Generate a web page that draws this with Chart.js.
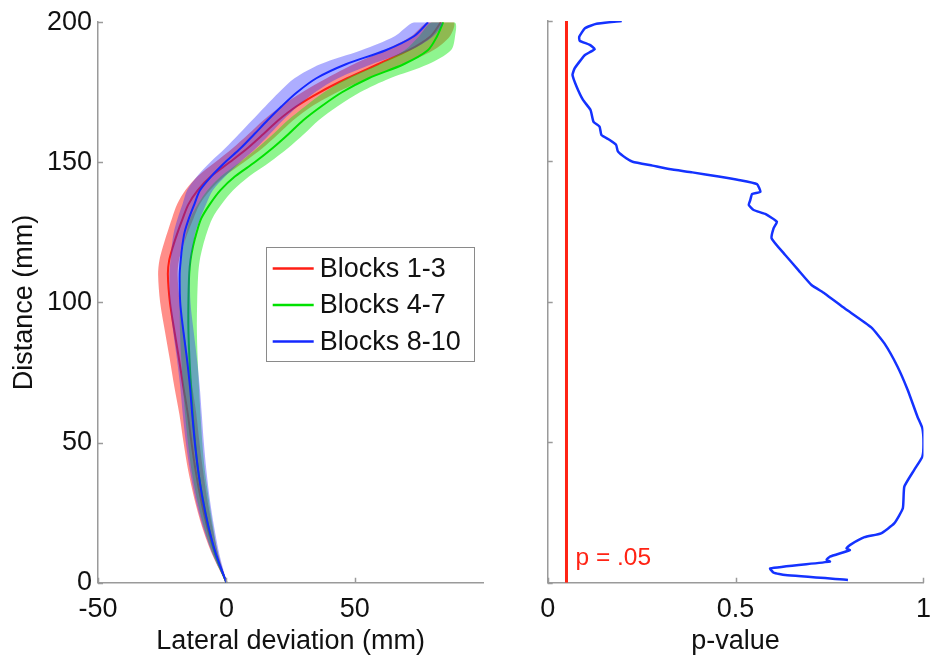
<!DOCTYPE html>
<html>
<head>
<meta charset="utf-8">
<script src="https://cdn.jsdelivr.net/npm/chart.js@4.4.1/dist/chart.umd.min.js"></script>
<style>
  html, body { margin: 0; padding: 0; background: #fff; overflow: hidden; width: 932px; height: 656px; }
  #wrap { position: relative; width: 932px; height: 656px; overflow: hidden; }
  canvas { position: absolute; top: 0; }
  #trajectory { left: 0; }
  #pvalue { left: 520px; }
</style>
</head>
<body>
<div id="wrap">
  <canvas id="trajectory" width="520" height="656"></canvas>
  <canvas id="pvalue" width="422" height="656"></canvas>
</div>
<script>
// Distance along the path (mm) at which the mean lateral deviation is sampled
const distanceLevels = [0, 10, 20, 30, 40, 50, 60, 70, 80, 90, 100, 110, 115, 120, 125, 130, 135, 140, 145, 150, 155, 160, 165, 170, 175, 180, 185, 190, 195, 200];

// Mean lateral deviation (mm) per block group
const blocks1to3Mean  = [0, -4.3, -7.5, -10.0, -12.0, -13.6, -15.0, -16.8, -18.5, -20.3, -22.0, -22.8, -22.3, -20.8, -19.0, -17.0, -14.8, -11.2, -6.0, 1.2, 8.2, 14.3, 20.2, 27.3, 36.3, 47.0, 59.0, 71.0, 79.5, 83.5];
const blocks4to7Mean  = [0, -4.2, -7.0, -9.2, -11.0, -12.2, -13.1, -13.8, -14.4, -14.8, -14.8, -14.5, -14.0, -13.0, -11.6, -9.8, -6.5, -2.4, 3.4, 11.0, 17.9, 24.1, 29.9, 37.0, 45.0, 55.4, 69.0, 78.4, 82.0, 84.4];
const blocks8to10Mean = [0, -4.0, -7.0, -9.3, -11.0, -12.3, -13.3, -14.2, -15.4, -16.8, -18.0, -18.2, -17.8, -17.2, -16.3, -14.6, -12.5, -10.3, -5.9, -0.5, 5.5, 10.8, 16.0, 21.5, 27.5, 35.0, 46.5, 62.0, 73.0, 78.5];

// Half-width of the shaded error band (mm, lateral)
const blocks1to3Spread  = [0.2, 1.2, 2.0, 2.5, 2.9, 3.1, 3.3, 3.5, 3.6, 3.7, 3.8, 3.8, 3.8, 3.9, 4.0, 4.2, 4.4, 4.8, 5.2, 5.6, 5.8, 5.8, 5.8, 6.0, 6.8, 8.0, 9.5, 9.5, 7.5, 5.0];
const blocks4to7Spread  = [0.2, 1.0, 1.8, 2.3, 2.6, 2.8, 3.0, 3.1, 3.2, 3.3, 3.4, 3.5, 3.6, 3.8, 4.0, 4.3, 4.6, 5.0, 5.5, 5.8, 6.0, 6.0, 6.0, 6.3, 7.0, 8.3, 9.5, 9.0, 7.0, 4.5];
const blocks8to10Spread = [0.2, 1.3, 2.2, 2.8, 3.2, 3.5, 3.7, 3.8, 3.9, 4.0, 4.0, 4.0, 4.0, 4.1, 4.2, 4.4, 4.6, 5.0, 5.5, 5.8, 6.0, 6.0, 6.0, 6.3, 7.0, 8.5, 10.0, 9.5, 7.5, 5.5];

// p-value of the block comparison along the path
const pDistance = [1.0, 2.7, 3.6, 5.1, 7.5, 8.1, 9.3, 11.6, 12.2, 13.4, 16.2, 17.6, 21.1, 26.5, 34.2, 40.1, 44.9, 49.6, 55.0, 59.1, 68.6, 76.9, 85.2, 90.9, 97.7, 103.0, 106.0, 111.3, 116.7, 122.6, 126.2, 128.5, 131.3, 132.7, 134.5, 136.2, 138.4, 139.2, 141.9, 143.4, 144.6, 146.1, 147.3, 148.5, 149.9, 151.1, 153.5, 155.9, 157.6, 159.4, 162.4, 164.1, 168.3, 171.9, 176.6, 180.8, 183.2, 186.1, 187.9, 190.0, 191.5, 193.0, 194.4, 197.4, 199.0, 200.0];
const pValues   = [0.799, 0.632, 0.601, 0.592, 0.751, 0.742, 0.751, 0.804, 0.795, 0.804, 0.843, 0.887, 0.922, 0.945, 0.949, 0.975, 0.997, 1.0, 0.997, 0.984, 0.958, 0.931, 0.896, 0.861, 0.790, 0.737, 0.702, 0.667, 0.632, 0.596, 0.601, 0.610, 0.579, 0.548, 0.535, 0.539, 0.544, 0.566, 0.557, 0.508, 0.455, 0.385, 0.323, 0.279, 0.226, 0.209, 0.187, 0.182, 0.165, 0.143, 0.138, 0.122, 0.114, 0.094, 0.077, 0.066, 0.072, 0.088, 0.099, 0.125, 0.112, 0.085, 0.084, 0.099, 0.130, 0.197];
const pThreshold = 0.05;
const pThresholdLabel = 'p = .05';

// Axis ticks
const lateralTicks  = [-50, 0, 50];
const distanceTicks = [0, 50, 100, 150, 200];
const pTicks        = [0, 0.5, 1];

const groupLabels = ['Blocks 1-3', 'Blocks 4-7', 'Blocks 8-10'];

const FONT = "'Liberation Sans', Arial, Helvetica, sans-serif";
const AXIS_GREY = '#9a9a9a';
const TEXT = '#111';

function meanPoints(mean) {
  return distanceLevels.map((d, i) => ({ x: mean[i], y: d }));
}
// closed outline: right edge going up, left edge coming back down
function bandPoints(mean, spread) {
  const up = distanceLevels.map((d, i) => ({ x: mean[i] + spread[i], y: d }));
  const down = distanceLevels.map((d, i) => ({ x: mean[i] - spread[i], y: d })).reverse();
  return up.concat(down);
}

// small tick marks drawn inward from the axis lines
const inwardTicks = {
  id: 'inwardTicks',
  afterDatasetsDraw(chart, args, opts) {
    const { ctx, chartArea, scales } = chart;
    ctx.save();
    ctx.strokeStyle = opts.color;
    ctx.lineWidth = opts.width;
    ctx.beginPath();
    scales.y.ticks.forEach(t => {
      const py = Math.round(scales.y.getPixelForValue(t.value)) + 0.5;
      ctx.moveTo(chartArea.left, py);
      ctx.lineTo(chartArea.left + opts.length, py);
    });
    scales.x.ticks.forEach(t => {
      const px = Math.round(scales.x.getPixelForValue(t.value)) + 0.5;
      ctx.moveTo(px, chartArea.bottom);
      ctx.lineTo(px, chartArea.bottom - opts.length);
    });
    ctx.stroke();
    ctx.restore();
  }
};

// boxed key placed inside the plot area
const boxedKey = {
  id: 'boxedKey',
  afterDatasetsDraw(chart, args, opts) {
    if (!opts.show) return;
    const { ctx, chartArea } = chart;
    const x0 = chartArea.left + opts.offsetX, y0 = chartArea.top + opts.offsetY;
    ctx.save();
    ctx.fillStyle = '#fff';
    ctx.fillRect(x0, y0, opts.width, opts.height);
    ctx.strokeStyle = '#8a8a8a';
    ctx.lineWidth = 1;
    ctx.strokeRect(Math.round(x0) + 0.5, Math.round(y0) + 0.5, opts.width, opts.height);
    const entries = chart.data.datasets.filter(ds => ds.label);
    ctx.font = opts.font;
    ctx.textBaseline = 'middle';
    ctx.textAlign = 'left';
    entries.forEach((ds, i) => {
      const cy = y0 + opts.firstRow + i * opts.rowStep;
      ctx.strokeStyle = ds.borderColor;
      ctx.lineWidth = 2.5;
      ctx.beginPath();
      ctx.moveTo(x0 + 7, cy);
      ctx.lineTo(x0 + 48, cy);
      ctx.stroke();
      ctx.fillStyle = TEXT;
      ctx.fillText(ds.label, x0 + 54, cy + 1);
    });
    ctx.restore();
  }
};

// text next to the significance threshold line
const thresholdNote = {
  id: 'thresholdNote',
  afterDatasetsDraw(chart, args, opts) {
    if (!opts.show) return;
    const { ctx, scales } = chart;
    ctx.save();
    ctx.font = opts.font;
    ctx.fillStyle = opts.color;
    ctx.textBaseline = 'alphabetic';
    ctx.textAlign = 'left';
    ctx.fillText(opts.text, scales.x.getPixelForValue(pThreshold) + 9, scales.y.getPixelForValue(0) - 18);
    ctx.restore();
  }
};

Chart.register(inwardTicks, boxedKey, thresholdNote);

const groups = [
  { label: groupLabels[0], mean: blocks1to3Mean,  spread: blocks1to3Spread,  line: 'rgb(255,30,20)', band: 'rgba(255,30,20,0.5)' },
  { label: groupLabels[1], mean: blocks4to7Mean,  spread: blocks4to7Spread,  line: 'rgb(0,225,0)',   band: 'rgba(20,235,20,0.48)' },
  { label: groupLabels[2], mean: blocks8to10Mean, spread: blocks8to10Spread, line: 'rgb(20,40,255)', band: 'rgba(40,40,255,0.38)' }
];

const trajectoryDatasets = [];
groups.forEach((g, gi) => {
  const depth = (groups.length - gi) * 2;
  trajectoryDatasets.push({
    label: '',
    data: bandPoints(g.mean, g.spread),
    showLine: true,
    borderWidth: 0,
    borderColor: 'rgba(0,0,0,0)',
    backgroundColor: g.band,
    fill: 'shape',
    pointRadius: 0,
    tension: 0.3,
    order: depth
  });
  trajectoryDatasets.push({
    label: g.label,
    data: meanPoints(g.mean),
    showLine: true,
    borderWidth: 2,
    borderColor: g.line,
    backgroundColor: g.line,
    fill: false,
    pointRadius: 0,
    tension: 0.3,
    order: depth - 1
  });
});

const tickFont = { family: FONT, size: 27 };
const titleFont = { family: FONT, size: 27, lineHeight: 1.08 };
const plainNumber = v => String(v);

new Chart(document.getElementById('trajectory'), {
  type: 'scatter',
  data: { datasets: trajectoryDatasets },
  options: {
    responsive: false,
    animation: false,
    devicePixelRatio: 1,
    layout: { padding: { top: 21, right: 36.7, left: 0, bottom: 0 } },
    scales: {
      x: {
        type: 'linear', min: -50, max: 100,
        afterBuildTicks: s => { s.ticks = lateralTicks.map(v => ({ value: v })); },
        afterFit: s => { s.height = 73.3; },
        grid: { display: false, drawTicks: false },
        border: { display: true, color: AXIS_GREY, width: 1.5 },
        ticks: { font: tickFont, color: TEXT, padding: 11, maxRotation: 0, callback: plainNumber },
        title: { display: true, text: 'Lateral deviation (mm)', font: titleFont, color: TEXT, padding: { top: 0, bottom: 0 } }
      },
      y: {
        type: 'linear', min: 0, max: 200,
        afterBuildTicks: s => { s.ticks = distanceTicks.map(v => ({ value: v })); },
        afterFit: s => { s.width = 98; },
        grid: { display: false, drawTicks: false },
        border: { display: true, color: AXIS_GREY, width: 1.5 },
        ticks: { font: tickFont, color: TEXT, padding: 6, callback: plainNumber },
        title: { display: true, text: 'Distance (mm)', font: { family: FONT, size: 27 }, color: TEXT, padding: { top: 8, bottom: 0 } }
      }
    },
    plugins: {
      legend: { display: false },
      tooltip: { enabled: false },
      inwardTicks: { color: AXIS_GREY, width: 1.5, length: 5 },
      boxedKey: { show: true, offsetX: 167.7, offsetY: 224.8, width: 208, height: 114, firstRow: 21.5, rowStep: 36.5, font: "27px " + FONT },
      thresholdNote: { show: false }
    }
  }
});

new Chart(document.getElementById('pvalue'), {
  type: 'scatter',
  data: {
    datasets: [
      {
        label: '',
        data: pDistance.map((d, i) => ({ x: pValues[i], y: d })),
        showLine: true,
        borderWidth: 2.5,
        borderColor: 'rgb(20,50,255)',
        pointRadius: 0,
        tension: 0.15,
        order: 1
      },
      {
        label: '',
        data: [{ x: pThreshold, y: 0 }, { x: pThreshold, y: 200 }],
        showLine: true,
        borderWidth: 3,
        borderColor: 'rgb(255,35,20)',
        pointRadius: 0,
        tension: 0,
        order: 2
      }
    ]
  },
  options: {
    responsive: false,
    animation: false,
    devicePixelRatio: 1,
    layout: { padding: { top: 21, right: 16, left: 0, bottom: 0 } },
    scales: {
      x: {
        type: 'linear', min: 0, max: 1,
        afterBuildTicks: s => { s.ticks = pTicks.map(v => ({ value: v })); },
        afterFit: s => { s.height = 73.3; },
        grid: { display: false, drawTicks: false },
        border: { display: true, color: AXIS_GREY, width: 1.5 },
        ticks: { font: tickFont, color: TEXT, padding: 11, maxRotation: 0, callback: plainNumber },
        title: { display: true, text: 'p-value', font: titleFont, color: TEXT, padding: { top: 0, bottom: 0 } }
      },
      y: {
        type: 'linear', min: 0, max: 200,
        afterBuildTicks: s => { s.ticks = distanceTicks.map(v => ({ value: v })); },
        afterFit: s => { s.width = 27.7; },
        grid: { display: false, drawTicks: false },
        border: { display: true, color: AXIS_GREY, width: 1.5 },
        ticks: { display: false }
      }
    },
    plugins: {
      legend: { display: false },
      tooltip: { enabled: false },
      inwardTicks: { color: AXIS_GREY, width: 1.5, length: 5 },
      boxedKey: { show: false },
      thresholdNote: { show: true, text: pThresholdLabel, color: 'rgb(255,35,20)', font: "24.5px " + FONT }
    }
  }
});
</script>
</body>
</html>
